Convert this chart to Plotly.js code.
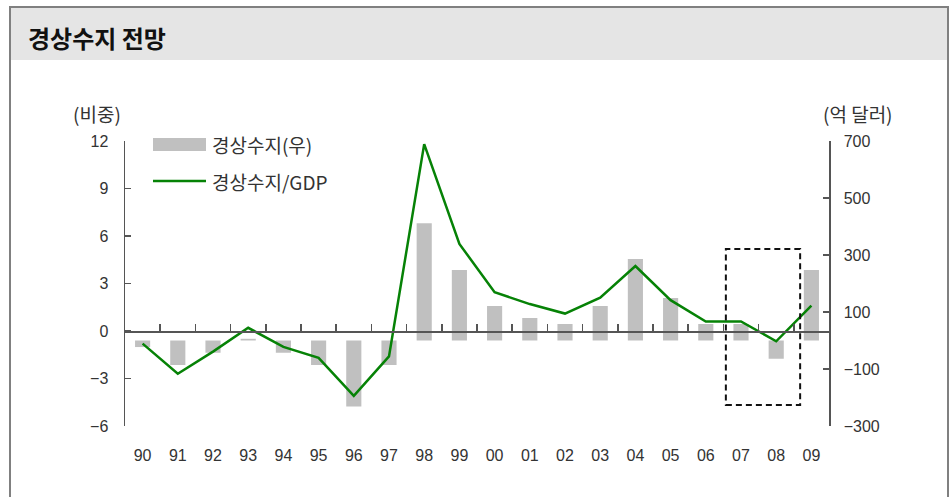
<!DOCTYPE html>
<html>
<head>
<meta charset="utf-8">
<script src="https://cdn.plot.ly/plotly-3.0.1.min.js"></script>
<style>
  html, body { margin: 0; padding: 0; background: #ffffff; }
  #chart { width: 950px; height: 497px; }
</style>
</head>
<body>
<div id="chart"></div>
<script>
// ---- data ----
const years = ["90","91","92","93","94","95","96","97","98","99","00","01","02","03","04","05","06","07","08","09"];
const currentAccount = [-23, -86, -43, 6, -43, -86, -232, -86, 411, 247, 121, 79, 58, 121, 286, 149, 58, 58, -64, 247]; // 억 달러 (right axis)
const caToGdp = [-0.8, -2.7, -1.3, 0.2, -1.0, -1.7, -4.1, -1.6, 11.8, 5.5, 2.45, 1.7, 1.1, 2.1, 4.1, 1.95, 0.6, 0.6, -0.65, 1.6]; // % (left axis)
const leftTicks = [-6, -3, 0, 3, 6, 9, 12];
const leftTickText = ["\u22126", "\u22123", "0", "3", "6", "9", "12"];
const rightTicks = [-300, -100, 100, 300, 500, 700];
const rightTickText = ["\u2212300", "\u2212100", "100", "300", "500", "700"];
const seriesNames = ["경상수지(우)", "경상수지/GDP"];
const chartTitle = "경상수지 전망";
const leftUnit = "(비중)";
const rightUnit = "(억 달러)";

// ---- layout geometry (pixels) ----
const W = 950, H = 497;
const M = { l: 125, r: 121, t: 141, b: 71 };
const PW = W - M.l - M.r, PH = H - M.t - M.b;
const px = x => (x - M.l) / PW;
const py = y => (H - M.b - y) / PH;

const FONT = 'Liberation Sans, "Noto Sans CJK KR", Arial, sans-serif';
const KFONT = '"Noto Sans CJK KR", "Liberation Sans", sans-serif';
const TXT = '#333333';
const AX = '#555555';
const BAR = '#c0c0c0';
const GREEN = '#068206';

const traces = [
  {
    type: 'bar', x: years, y: currentAccount, xaxis: 'x', yaxis: 'y',
    name: seriesNames[0], marker: { color: BAR, line: { width: 0 } }, width: 0.43,
    showlegend: false, hoverinfo: 'x+y'
  },
  {
    type: 'scatter', mode: 'lines', x: years, y: caToGdp, xaxis: 'x2', yaxis: 'y2',
    name: seriesNames[1], line: { color: GREEN, width: 2.5 },
    showlegend: false, hoverinfo: 'x+y'
  }
];

const shapes = [
  // title band
  { type: 'rect', xref: 'paper', yref: 'paper', x0: px(10), x1: px(948), y0: py(8), y1: py(60),
    fillcolor: '#e5e5e5', line: { width: 0 }, layer: 'below' },
  // frame
  { type: 'line', xref: 'paper', yref: 'paper', x0: px(9), x1: px(949), y0: py(7), y1: py(7), line: { color: '#808080', width: 2 } },
  { type: 'line', xref: 'paper', yref: 'paper', x0: px(10), x1: px(10), y0: py(7), y1: py(497), line: { color: '#808080', width: 2 } },
  { type: 'line', xref: 'paper', yref: 'paper', x0: px(948), x1: px(948), y0: py(7), y1: py(497), line: { color: '#808080', width: 2 } },
  // legend symbols
  { type: 'rect', xref: 'paper', yref: 'paper', x0: px(153), x1: px(206), y0: py(151), y1: py(138),
    fillcolor: BAR, line: { width: 0 } },
  { type: 'line', xref: 'paper', yref: 'paper', x0: px(153), x1: px(206), y0: py(181), y1: py(181),
    line: { color: GREEN, width: 2.5 } },
  // dashed highlight box around 07-08 forecast
  { type: 'rect', xref: 'x', yref: 'y', x0: 16.57, x1: 18.68, y0: -226, y1: 321,
    line: { color: '#111111', width: 2, dash: '6px,4px' }, fillcolor: 'rgba(0,0,0,0)' }
];

const annotations = [
  { xref: 'paper', yref: 'paper', x: px(26), y: py(37), xanchor: 'left', yanchor: 'middle', showarrow: false,
    text: '<b>' + chartTitle + '</b>', font: { family: KFONT, size: 24, color: '#111111' } },
  { xref: 'paper', yref: 'paper', x: px(97), y: py(114), xanchor: 'center', yanchor: 'middle', showarrow: false,
    text: leftUnit, font: { family: KFONT, size: 19, color: TXT } },
  { xref: 'paper', yref: 'paper', x: px(858), y: py(114), xanchor: 'center', yanchor: 'middle', showarrow: false,
    text: rightUnit, font: { family: KFONT, size: 19, color: TXT } },
  { xref: 'paper', yref: 'paper', x: px(210), y: py(144), xanchor: 'left', yanchor: 'middle', showarrow: false,
    text: seriesNames[0], font: { family: KFONT, size: 19, color: TXT } },
  { xref: 'paper', yref: 'paper', x: px(210), y: py(181), xanchor: 'left', yanchor: 'middle', showarrow: false,
    text: seriesNames[1], font: { family: KFONT, size: 19, color: TXT } }
];

const layout = {
  width: W, height: H,
  margin: M,
  paper_bgcolor: '#ffffff', plot_bgcolor: 'rgba(0,0,0,0)',
  showlegend: false,
  font: { family: FONT, size: 16, color: TXT },
  xaxis: {
    type: 'category', domain: [0, 1], anchor: 'y', range: [-0.5, 19.5],
    showline: false, ticks: '', showgrid: false, zeroline: false,
    tickfont: { family: FONT, size: 16, color: TXT }, ticklabelstandoff: 18
  },
  yaxis: {
    side: 'right', anchor: 'x', range: [-300, 700], tickmode: 'array',
    tickvals: rightTicks, ticktext: rightTickText,
    showline: true, linecolor: AX, linewidth: 1.5, ticks: 'inside', ticklen: 6, tickcolor: AX, tickwidth: 1.5,
    showgrid: false, zeroline: false, ticklabelstandoff: 10,
    tickfont: { family: FONT, size: 16, color: TXT }
  },
  xaxis2: {
    type: 'category', overlaying: 'x', anchor: 'free', position: 6 / 18, range: [-0.5, 19.5],
    showline: true, linecolor: AX, linewidth: 1.5, ticks: 'inside', ticklen: 7, tickcolor: AX, tickwidth: 1.5,
    tickson: 'boundaries', showticklabels: false, showgrid: false, zeroline: false
  },
  yaxis2: {
    overlaying: 'y', side: 'left', anchor: 'x2', range: [-6, 12], tickmode: 'array',
    tickvals: leftTicks, ticktext: leftTickText,
    showline: true, linecolor: AX, linewidth: 1.5, ticks: 'inside', ticklen: 6, tickcolor: AX, tickwidth: 1.5,
    showgrid: false, zeroline: false, ticklabelstandoff: 12,
    tickfont: { family: FONT, size: 16, color: TXT }
  },
  shapes: shapes,
  annotations: annotations
};

Plotly.newPlot('chart', traces, layout, { staticPlot: true, displayModeBar: false });
</script>
</body>
</html>
